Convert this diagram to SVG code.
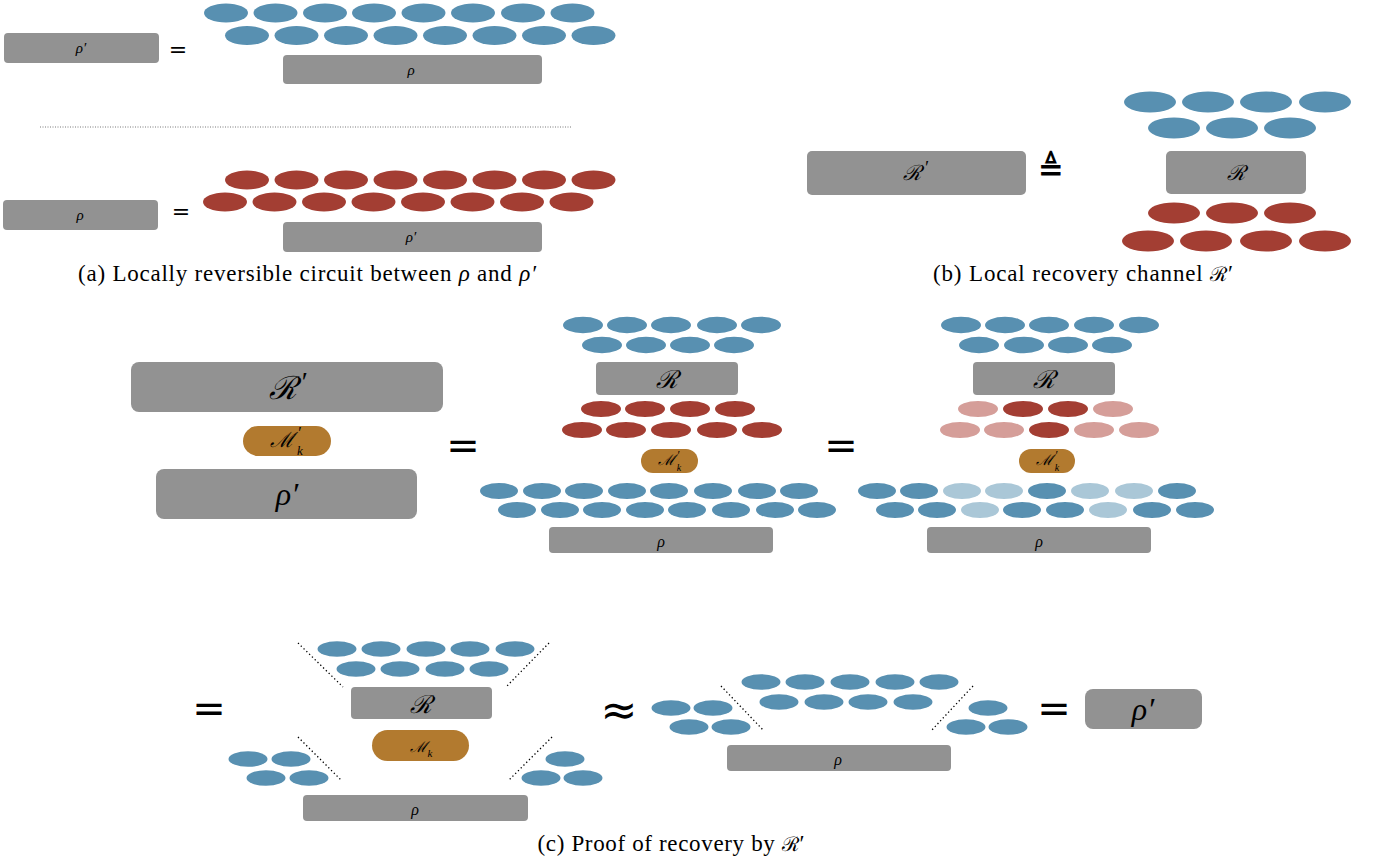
<svg xmlns="http://www.w3.org/2000/svg" width="1379" height="861" viewBox="0 0 1379 861">
<style>
.b{fill:#5890b1}.r{fill:#a33e33}.lr{fill:#d59e99}.lb{fill:#aac7d7}
.box{fill:#929292}.pill{fill:#b27a2f}
.dot{stroke:#000;stroke-width:1.3;stroke-dasharray:1.3 2.6;fill:none}
.lab{font-family:"Liberation Serif",serif;font-style:italic;text-anchor:middle;dominant-baseline:central;fill:#000}
.scr{font-family:"DejaVu Serif",serif;font-style:italic;text-anchor:middle;dominant-baseline:central;fill:#000}
.op{font-family:"DejaVu Sans",sans-serif;text-anchor:middle;dominant-baseline:central;fill:#000}
.cap{font-family:"Liberation Serif",serif;font-size:23px;text-anchor:middle;fill:#000}
</style>
<rect width="1379" height="861" fill="#fff"/>

<!-- Panel (a) top -->
<g id="a-rhoprime-left"><rect class="box" x="4" y="33" width="155" height="30" rx="4"/><text class="lab" x="81" y="48" font-size="15">ρ′</text></g>
<text class="op" x="178" y="49" font-size="22">=</text>
<g id="a-blue-rows">
<ellipse class="b" cx="226" cy="13" rx="22" ry="9.5"/><ellipse class="b" cx="275.5" cy="13" rx="22" ry="9.5"/><ellipse class="b" cx="325" cy="13" rx="22" ry="9.5"/><ellipse class="b" cx="374" cy="13" rx="22" ry="9.5"/><ellipse class="b" cx="423.5" cy="13" rx="22" ry="9.5"/><ellipse class="b" cx="473" cy="13" rx="22" ry="9.5"/><ellipse class="b" cx="523" cy="13" rx="22" ry="9.5"/><ellipse class="b" cx="572.5" cy="13" rx="22" ry="9.5"/>
<ellipse class="b" cx="247" cy="35.5" rx="22" ry="9.5"/><ellipse class="b" cx="296.5" cy="35.5" rx="22" ry="9.5"/><ellipse class="b" cx="346" cy="35.5" rx="22" ry="9.5"/><ellipse class="b" cx="395.5" cy="35.5" rx="22" ry="9.5"/><ellipse class="b" cx="445" cy="35.5" rx="22" ry="9.5"/><ellipse class="b" cx="494.5" cy="35.5" rx="22" ry="9.5"/><ellipse class="b" cx="544" cy="35.5" rx="22" ry="9.5"/><ellipse class="b" cx="593.5" cy="35.5" rx="22" ry="9.5"/>
</g>
<g id="a-rho-right"><rect class="box" x="283" y="55" width="259" height="29" rx="4"/><text class="lab" x="411" y="70" font-size="15">ρ</text></g>
<line x1="40" y1="127" x2="572" y2="127" stroke="#555" stroke-width="0.8" stroke-dasharray="1 1.5"/>

<!-- Panel (a) bottom -->
<g id="a-red-rows">
<ellipse class="r" cx="247" cy="180" rx="22" ry="9.5"/><ellipse class="r" cx="296.5" cy="180" rx="22" ry="9.5"/><ellipse class="r" cx="346" cy="180" rx="22" ry="9.5"/><ellipse class="r" cx="395.5" cy="180" rx="22" ry="9.5"/><ellipse class="r" cx="445" cy="180" rx="22" ry="9.5"/><ellipse class="r" cx="494.5" cy="180" rx="22" ry="9.5"/><ellipse class="r" cx="544" cy="180" rx="22" ry="9.5"/><ellipse class="r" cx="593.5" cy="180" rx="22" ry="9.5"/>
<ellipse class="r" cx="225" cy="202" rx="22" ry="9.5"/><ellipse class="r" cx="274.5" cy="202" rx="22" ry="9.5"/><ellipse class="r" cx="324" cy="202" rx="22" ry="9.5"/><ellipse class="r" cx="373.5" cy="202" rx="22" ry="9.5"/><ellipse class="r" cx="423" cy="202" rx="22" ry="9.5"/><ellipse class="r" cx="472.5" cy="202" rx="22" ry="9.5"/><ellipse class="r" cx="522" cy="202" rx="22" ry="9.5"/><ellipse class="r" cx="571.5" cy="202" rx="22" ry="9.5"/>
</g>
<g id="a-rho-left"><rect class="box" x="3" y="200" width="155" height="30" rx="4"/><text class="lab" x="80" y="215" font-size="15">ρ</text></g>
<text class="op" x="181" y="211" font-size="22">=</text>
<g id="a-rhoprime-right"><rect class="box" x="283" y="222" width="259" height="30" rx="4"/><text class="lab" x="411" y="237" font-size="15">ρ′</text></g>
<text class="cap" x="307" y="281" textLength="458" lengthAdjust="spacing">(a) Locally reversible circuit between <tspan font-style="italic">ρ</tspan> and <tspan font-style="italic">ρ′</tspan></text>

<!-- Panel (b) -->
<g id="b-Rprime"><rect class="box" x="807" y="151" width="219" height="44" rx="5"/><text class="scr" x="912" y="173" font-size="21">ℛ</text><text class="lab" x="926" y="168" font-size="18">′</text></g>
<text class="op" x="1051" y="169" font-size="31" font-weight="bold">≜</text>
<g id="b-blue">
<ellipse class="b" cx="1150" cy="102" rx="26" ry="10.5"/><ellipse class="b" cx="1208" cy="102" rx="26" ry="10.5"/><ellipse class="b" cx="1266" cy="102" rx="26" ry="10.5"/><ellipse class="b" cx="1325" cy="102" rx="26" ry="10.5"/>
<ellipse class="b" cx="1174" cy="128" rx="26" ry="10.5"/><ellipse class="b" cx="1232" cy="128" rx="26" ry="10.5"/><ellipse class="b" cx="1290" cy="128" rx="26" ry="10.5"/>
</g>
<g id="b-R"><rect class="box" x="1166" y="151" width="140" height="43" rx="5"/><text class="scr" x="1236" y="173" font-size="21">ℛ</text></g>
<g id="b-red">
<ellipse class="r" cx="1174" cy="213" rx="26" ry="10.5"/><ellipse class="r" cx="1232" cy="213" rx="26" ry="10.5"/><ellipse class="r" cx="1290" cy="213" rx="26" ry="10.5"/>
<ellipse class="r" cx="1148" cy="241" rx="26" ry="10.5"/><ellipse class="r" cx="1206" cy="241" rx="26" ry="10.5"/><ellipse class="r" cx="1266" cy="241" rx="26" ry="10.5"/><ellipse class="r" cx="1325" cy="241" rx="26" ry="10.5"/>
</g>
<text class="cap" x="1083" y="281" textLength="300" lengthAdjust="spacing">(b) Local recovery channel <tspan font-family="DejaVu Serif" font-size="20">ℛ</tspan><tspan>′</tspan></text>

<!-- Panel (c) row 1 -->
<g id="c1-Rprime"><rect class="box" x="131" y="362" width="312" height="50" rx="8"/><text class="scr" x="283" y="388" font-size="32">ℛ</text><text class="lab" x="303" y="381" font-size="28">′</text></g>
<g id="c1-Mk"><rect class="pill" x="243" y="426" width="88" height="30" rx="15"/><text class="scr" x="282" y="440" font-size="21">ℳ</text><text class="lab" x="299" y="432" font-size="16">′</text><text class="lab" x="300" y="450" font-size="13">k</text></g>
<g id="c1-rhoprime"><rect class="box" x="156" y="469" width="261" height="50" rx="8"/><text class="lab" x="287" y="494" font-size="32">ρ′</text></g>
<text class="op" x="463" y="445" font-size="40">=</text>

<g id="c2-blue-top">
<ellipse class="b" cx="583" cy="325" rx="20" ry="8.3"/><ellipse class="b" cx="627" cy="325" rx="20" ry="8.3"/><ellipse class="b" cx="671" cy="325" rx="20" ry="8.3"/><ellipse class="b" cx="717" cy="325" rx="20" ry="8.3"/><ellipse class="b" cx="761" cy="325" rx="20" ry="8.3"/>
<ellipse class="b" cx="602" cy="345" rx="20" ry="8.3"/><ellipse class="b" cx="646" cy="345" rx="20" ry="8.3"/><ellipse class="b" cx="690" cy="345" rx="20" ry="8.3"/><ellipse class="b" cx="734" cy="345" rx="20" ry="8.3"/>
</g>
<g id="c2-R"><rect class="box" x="596" y="362" width="142" height="33" rx="4"/><text class="scr" x="667" y="379" font-size="25">ℛ</text></g>
<g id="c2-red">
<ellipse class="r" cx="601" cy="409" rx="20" ry="8"/><ellipse class="r" cx="645" cy="409" rx="20" ry="8"/><ellipse class="r" cx="690" cy="409" rx="20" ry="8"/><ellipse class="r" cx="735" cy="409" rx="20" ry="8"/>
<ellipse class="r" cx="582" cy="430" rx="20" ry="8"/><ellipse class="r" cx="626" cy="430" rx="20" ry="8"/><ellipse class="r" cx="671" cy="430" rx="20" ry="8"/><ellipse class="r" cx="717" cy="430" rx="20" ry="8"/><ellipse class="r" cx="762" cy="430" rx="20" ry="8"/>
</g>
<g id="c2-Mk"><rect class="pill" x="641" y="449" width="57" height="24" rx="12"/><text class="scr" x="666" y="460" font-size="15">ℳ</text><text class="lab" x="678" y="455" font-size="12">′</text><text class="lab" x="679" y="467" font-size="10">k</text></g>
<g id="c2-blue-bottom">
<ellipse class="b" cx="499" cy="491" rx="19" ry="8"/><ellipse class="b" cx="542" cy="491" rx="19" ry="8"/><ellipse class="b" cx="584" cy="491" rx="19" ry="8"/><ellipse class="b" cx="627" cy="491" rx="19" ry="8"/><ellipse class="b" cx="669" cy="491" rx="19" ry="8"/><ellipse class="b" cx="713" cy="491" rx="19" ry="8"/><ellipse class="b" cx="757" cy="491" rx="19" ry="8"/><ellipse class="b" cx="799" cy="491" rx="19" ry="8"/>
<ellipse class="b" cx="517" cy="510" rx="19" ry="8"/><ellipse class="b" cx="560" cy="510" rx="19" ry="8"/><ellipse class="b" cx="602" cy="510" rx="19" ry="8"/><ellipse class="b" cx="645" cy="510" rx="19" ry="8"/><ellipse class="b" cx="687" cy="510" rx="19" ry="8"/><ellipse class="b" cx="731" cy="510" rx="19" ry="8"/><ellipse class="b" cx="775" cy="510" rx="19" ry="8"/><ellipse class="b" cx="817" cy="510" rx="19" ry="8"/>
</g>
<g id="c2-rho"><rect class="box" x="549" y="527" width="224" height="26" rx="4"/><text class="lab" x="661" y="541" font-size="16">ρ</text></g>
<text class="op" x="841" y="445" font-size="40">=</text>

<g id="c3-blue-top">
<ellipse class="b" cx="961" cy="325" rx="20" ry="8.3"/><ellipse class="b" cx="1005" cy="325" rx="20" ry="8.3"/><ellipse class="b" cx="1049" cy="325" rx="20" ry="8.3"/><ellipse class="b" cx="1094" cy="325" rx="20" ry="8.3"/><ellipse class="b" cx="1139" cy="325" rx="20" ry="8.3"/>
<ellipse class="b" cx="979" cy="345" rx="20" ry="8.3"/><ellipse class="b" cx="1024" cy="345" rx="20" ry="8.3"/><ellipse class="b" cx="1068" cy="345" rx="20" ry="8.3"/><ellipse class="b" cx="1112" cy="345" rx="20" ry="8.3"/>
</g>
<g id="c3-R"><rect class="box" x="973" y="362" width="142" height="33" rx="4"/><text class="scr" x="1044" y="379" font-size="25">ℛ</text></g>
<g id="c3-red">
<ellipse class="lr" cx="978" cy="409" rx="20" ry="8"/><ellipse class="r" cx="1023" cy="409" rx="20" ry="8"/><ellipse class="r" cx="1068" cy="409" rx="20" ry="8"/><ellipse class="lr" cx="1113" cy="409" rx="20" ry="8"/>
<ellipse class="lr" cx="960" cy="430" rx="20" ry="8"/><ellipse class="lr" cx="1004" cy="430" rx="20" ry="8"/><ellipse class="r" cx="1049" cy="430" rx="20" ry="8"/><ellipse class="lr" cx="1094" cy="430" rx="20" ry="8"/><ellipse class="lr" cx="1139" cy="430" rx="20" ry="8"/>
</g>
<g id="c3-Mk"><rect class="pill" x="1019" y="449" width="56" height="24" rx="12"/><text class="scr" x="1044" y="460" font-size="15">ℳ</text><text class="lab" x="1056" y="455" font-size="12">′</text><text class="lab" x="1057" y="467" font-size="10">k</text></g>
<g id="c3-blue-bottom">
<ellipse class="b" cx="877" cy="491" rx="19" ry="8"/><ellipse class="b" cx="919" cy="491" rx="19" ry="8"/><ellipse class="lb" cx="962" cy="491" rx="19" ry="8"/><ellipse class="lb" cx="1004" cy="491" rx="19" ry="8"/><ellipse class="b" cx="1047" cy="491" rx="19" ry="8"/><ellipse class="lb" cx="1090" cy="491" rx="19" ry="8"/><ellipse class="lb" cx="1134" cy="491" rx="19" ry="8"/><ellipse class="b" cx="1177" cy="491" rx="19" ry="8"/>
<ellipse class="b" cx="895" cy="510" rx="19" ry="8"/><ellipse class="b" cx="937" cy="510" rx="19" ry="8"/><ellipse class="lb" cx="980" cy="510" rx="19" ry="8"/><ellipse class="b" cx="1022" cy="510" rx="19" ry="8"/><ellipse class="b" cx="1065" cy="510" rx="19" ry="8"/><ellipse class="lb" cx="1108" cy="510" rx="19" ry="8"/><ellipse class="b" cx="1152" cy="510" rx="19" ry="8"/><ellipse class="b" cx="1195" cy="510" rx="19" ry="8"/>
</g>
<g id="c3-rho"><rect class="box" x="927" y="527" width="224" height="26" rx="4"/><text class="lab" x="1039" y="541" font-size="16">ρ</text></g>

<!-- Panel (c) row 2 -->
<text class="op" x="209" y="708" font-size="40">=</text>
<g id="c4-blue-top">
<ellipse class="b" cx="337" cy="649" rx="19.5" ry="7.8"/><ellipse class="b" cx="381" cy="649" rx="19.5" ry="7.8"/><ellipse class="b" cx="426" cy="649" rx="19.5" ry="7.8"/><ellipse class="b" cx="470" cy="649" rx="19.5" ry="7.8"/><ellipse class="b" cx="515" cy="649" rx="19.5" ry="7.8"/>
<ellipse class="b" cx="356" cy="669" rx="19.5" ry="7.8"/><ellipse class="b" cx="400" cy="669" rx="19.5" ry="7.8"/><ellipse class="b" cx="445" cy="669" rx="19.5" ry="7.8"/><ellipse class="b" cx="489" cy="669" rx="19.5" ry="7.8"/>
</g>
<g id="c4-R"><rect class="box" x="351" y="687" width="141" height="32" rx="4"/><text class="scr" x="421" y="704" font-size="25">ℛ</text></g>
<g id="c4-Mk"><rect class="pill" x="372" y="730" width="97" height="31" rx="15.5"/><text class="scr" x="418" y="747" font-size="15">ℳ</text><text class="lab" x="430" y="753" font-size="11">k</text></g>
<g id="c4-blue-left">
<ellipse class="b" cx="248" cy="759" rx="19.5" ry="7.8"/><ellipse class="b" cx="291" cy="759" rx="19.5" ry="7.8"/>
<ellipse class="b" cx="266" cy="778" rx="19.5" ry="7.8"/><ellipse class="b" cx="309" cy="778" rx="19.5" ry="7.8"/>
</g>
<g id="c4-blue-right">
<ellipse class="b" cx="565" cy="759" rx="19.5" ry="7.8"/>
<ellipse class="b" cx="541" cy="778" rx="19.5" ry="7.8"/><ellipse class="b" cx="583" cy="778" rx="19.5" ry="7.8"/>
</g>
<g id="c4-rho"><rect class="box" x="303" y="795" width="225" height="26" rx="4"/><text class="lab" x="415" y="809" font-size="16">ρ</text></g>
<text class="op" x="619" y="709" font-size="44">≈</text>

<g id="c5-blue-left">
<ellipse class="b" cx="671" cy="708" rx="19.5" ry="7.8"/><ellipse class="b" cx="713" cy="708" rx="19.5" ry="7.8"/>
<ellipse class="b" cx="689" cy="727" rx="19.5" ry="7.8"/><ellipse class="b" cx="731" cy="727" rx="19.5" ry="7.8"/>
</g>
<g id="c5-blue-top">
<ellipse class="b" cx="761" cy="682" rx="19.5" ry="7.8"/><ellipse class="b" cx="805" cy="682" rx="19.5" ry="7.8"/><ellipse class="b" cx="850" cy="682" rx="19.5" ry="7.8"/><ellipse class="b" cx="895" cy="682" rx="19.5" ry="7.8"/><ellipse class="b" cx="939" cy="682" rx="19.5" ry="7.8"/>
<ellipse class="b" cx="779" cy="702" rx="19.5" ry="7.8"/><ellipse class="b" cx="824" cy="702" rx="19.5" ry="7.8"/><ellipse class="b" cx="868" cy="702" rx="19.5" ry="7.8"/><ellipse class="b" cx="913" cy="702" rx="19.5" ry="7.8"/>
</g>
<g id="c5-blue-right">
<ellipse class="b" cx="988" cy="708" rx="19.5" ry="7.8"/>
<ellipse class="b" cx="966" cy="727" rx="19.5" ry="7.8"/><ellipse class="b" cx="1008" cy="727" rx="19.5" ry="7.8"/>
</g>
<g id="c5-rho"><rect class="box" x="727" y="745" width="224" height="26" rx="4"/><text class="lab" x="838" y="759" font-size="16">ρ</text></g>
<text class="op" x="1054" y="708" font-size="40">=</text>
<g id="c6-rhoprime"><rect class="box" x="1085" y="689" width="117" height="40" rx="8"/><text class="lab" x="1143" y="709" font-size="32">ρ′</text></g>

<g id="connectors">
<line class="dot" x1="298" y1="643" x2="343" y2="687"/>
<line class="dot" x1="549" y1="643" x2="506" y2="687"/>
<line class="dot" x1="298" y1="737" x2="342" y2="781"/>
<line class="dot" x1="552" y1="737" x2="508" y2="781"/>
<line class="dot" x1="721" y1="686" x2="764" y2="731"/>
<line class="dot" x1="973" y1="686" x2="931" y2="731"/>
</g>

<text class="cap" x="671" y="851" textLength="267" lengthAdjust="spacing">(c) Proof of recovery by <tspan font-family="DejaVu Serif" font-size="20">ℛ</tspan><tspan>′</tspan></text>
</svg>
